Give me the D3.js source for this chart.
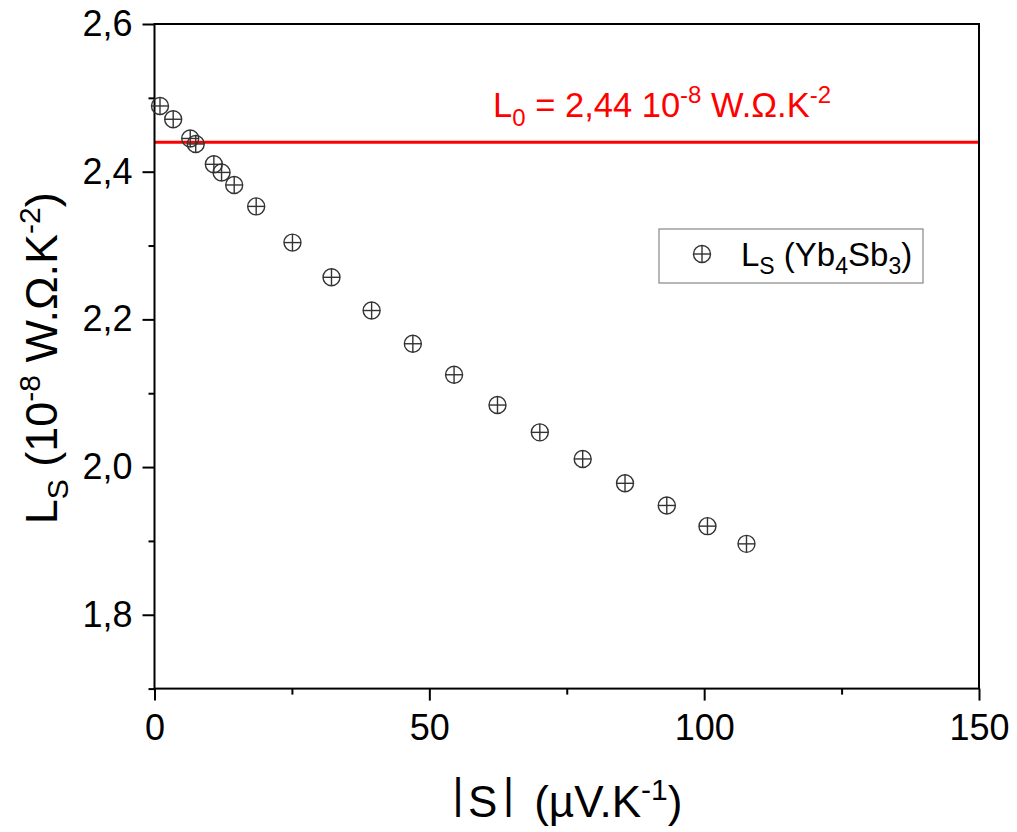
<!DOCTYPE html>
<html>
<head>
<meta charset="utf-8">
<script src="https://cdn.jsdelivr.net/npm/d3@7"></script>
<style>
  html, body { margin: 0; padding: 0; background: #fff; }
  text { font-family: "Liberation Sans", Arial, Helvetica, sans-serif; }
</style>
</head>
<body>
<svg id="chart" width="1017" height="832"></svg>
<script>
// ---- data ----
const seebeck = [1.0, 3.4, 6.5, 7.5, 10.8, 12.2, 14.5, 18.5, 25.1, 32.2, 39.5, 47.0, 54.5, 62.4, 70.1, 77.9, 85.6, 93.2, 100.6, 107.7];
const lorenzS = [2.489, 2.471, 2.445, 2.4375, 2.410, 2.399, 2.382, 2.353, 2.304, 2.257, 2.212, 2.167, 2.125, 2.084, 2.047, 2.011, 1.978, 1.948, 1.920, 1.896];
const L0 = 2.44;
const xMajorTicks = [0, 50, 100, 150];
const xMinorTicks = [25, 75, 125];
const yMajorTicks = [1.8, 2.0, 2.2, 2.4, 2.6];
const yMinorTicks = [1.7, 1.9, 2.1, 2.3, 2.5];
const xDomain = [0, 150];
const yDomain = [1.7, 2.6];

// ---- layout ----
const svg = d3.select("#chart");
const pL = 154.5, pR = 979, pT = 24, pB = 688.6;
const x = d3.scaleLinear().domain(xDomain).range([pL, pR]);
const y = d3.scaleLinear().domain(yDomain).range([pB, pT]);
const fmt = d => d3.format(".1f")(d).replace(".", ",");

// red reference line
svg.append("line")
  .attr("x1", x(xDomain[0])).attr("x2", x(xDomain[1]))
  .attr("y1", y(L0)).attr("y2", y(L0))
  .attr("stroke", "#ff0000").attr("stroke-width", 3);

// axes
const gx = svg.append("g").attr("transform", `translate(0,${pB})`);
gx.call(d3.axisBottom(x).tickValues(xMajorTicks).tickSize(12).tickPadding(14).tickFormat(d3.format("d")));
const gxm = svg.append("g").attr("transform", `translate(0,${pB})`);
gxm.call(d3.axisBottom(x).tickValues(xMinorTicks).tickSize(6).tickFormat(""));
const gy = svg.append("g").attr("transform", `translate(${pL},0)`);
gy.call(d3.axisLeft(y).tickValues(yMajorTicks).tickSize(12).tickPadding(10).tickFormat(fmt));
const gym = svg.append("g").attr("transform", `translate(${pL},0)`);
gym.call(d3.axisLeft(y).tickValues(yMinorTicks).tickSize(6).tickFormat(""));

[gx, gxm, gy, gym].forEach(g => {
  g.select(".domain").remove();
  g.selectAll(".tick line").attr("stroke", "#000").attr("stroke-width", 2);
  g.selectAll(".tick text").attr("fill", "#000").attr("font-size", 36)
    .attr("font-family", '"Liberation Sans", Arial, sans-serif');
});

// frame
svg.append("rect")
  .attr("x", pL).attr("y", pT)
  .attr("width", pR - pL).attr("height", pB - pT)
  .attr("fill", "none").attr("stroke", "#000").attr("stroke-width", 2);

// markers
function marker(g, cx, cy, r) {
  g.append("circle").attr("cx", cx).attr("cy", cy).attr("r", r)
    .attr("fill", "none").attr("stroke", "#333").attr("stroke-width", 1.4);
  g.append("line").attr("x1", cx - r).attr("x2", cx + r).attr("y1", cy).attr("y2", cy)
    .attr("stroke", "#333").attr("stroke-width", 1.4);
  g.append("line").attr("x1", cx).attr("x2", cx).attr("y1", cy - r).attr("y2", cy + r)
    .attr("stroke", "#333").attr("stroke-width", 1.4);
}
const pts = svg.append("g");
seebeck.forEach((s, i) => marker(pts, x(s), y(lorenzS[i]), 8.5));

// L0 label
const t0 = svg.append("text")
  .attr("x", x(61.6)).attr("y", y(L0) - 25)
  .attr("fill", "#ff0000").attr("font-size", 34.5);
t0.append("tspan").text("L");
t0.append("tspan").attr("font-size", 24).attr("dy", 9).text("0");
t0.append("tspan").attr("dy", -9).text(" = 2,44 10");
t0.append("tspan").attr("font-size", 24).attr("dy", -14).text("-8");
t0.append("tspan").attr("dy", 14).text(" W.Ω.K");
t0.append("tspan").attr("font-size", 24).attr("dy", -14).text("-2");

// legend
svg.append("rect").attr("x", 659).attr("y", 229).attr("width", 264).attr("height", 54)
  .attr("fill", "#fff").attr("stroke", "#888").attr("stroke-width", 1.2);
marker(svg.append("g"), 702, 254, 8.5);
const lt = svg.append("text").attr("x", 741).attr("y", 266).attr("font-size", 33).attr("fill", "#000");
lt.append("tspan").text("L");
lt.append("tspan").attr("font-size", 23).attr("dy", 8).text("S");
lt.append("tspan").attr("dy", -8).text(" (Yb");
lt.append("tspan").attr("font-size", 23).attr("dy", 8).text("4");
lt.append("tspan").attr("dy", -8).text("Sb");
lt.append("tspan").attr("font-size", 23).attr("dy", 8).text("3");
lt.append("tspan").attr("dy", -8).text(")");

// x title
const xt = svg.append("text").attr("x", 452.5).attr("y", 817)
  .attr("font-size", 44).attr("fill", "#000");
xt.append("tspan").attr("font-size", 42.5).attr("dy", -9).text("|");
xt.append("tspan").attr("dx", 4.5).attr("dy", 9).text("S");
xt.append("tspan").attr("font-size", 42.5).attr("dx", 5.5).attr("dy", -9).text("|");
xt.append("tspan").attr("dx", 8).attr("dy", 9).text(" (µV.K");
xt.append("tspan").attr("font-size", 30).attr("dy", -17).text("-1");
xt.append("tspan").attr("dy", 17).text(")");

// y title
const yt = svg.append("text")
  .attr("transform", `translate(57,${(pT + pB) / 2 + 2}) rotate(-90)`)
  .attr("text-anchor", "middle").attr("font-size", 45).attr("fill", "#000");
yt.append("tspan").text("L");
yt.append("tspan").attr("font-size", 30).attr("dy", 11).text("S");
yt.append("tspan").attr("dy", -11).text(" (10");
yt.append("tspan").attr("font-size", 30).attr("dy", -17).text("-8");
yt.append("tspan").attr("dy", 17).text(" W.Ω.K");
yt.append("tspan").attr("font-size", 30).attr("dy", -17).text("-2");
yt.append("tspan").attr("dy", 17).text(")");
</script>
</body>
</html>
